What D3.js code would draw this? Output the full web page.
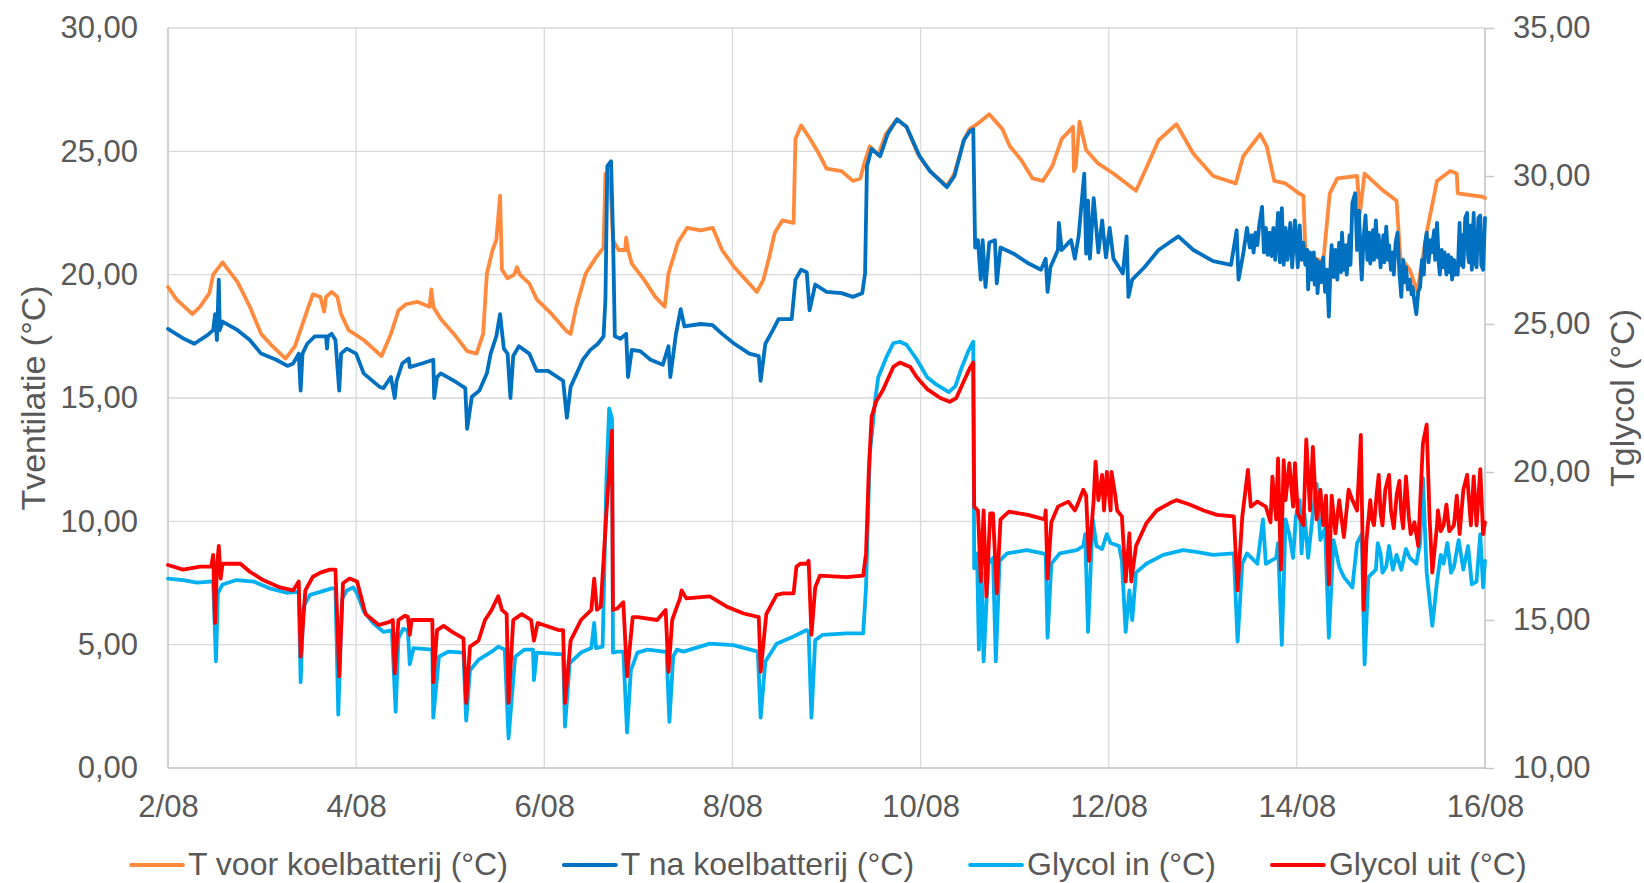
<!DOCTYPE html>
<html>
<head>
<meta charset="utf-8">
<script src="https://cdn.jsdelivr.net/npm/d3@7/dist/d3.min.js"></script>
<style>
  body { margin: 0; background: #fff; }
  text { font-family: "Liberation Sans", Arial, sans-serif; fill: #595959; }
</style>
</head>
<body>
<div id="chart"></div>
<script>
// time in days since 2/08 00:00, values in °C
const tVoor = [[0,19.5],[0.09,19.0],[0.26,18.4],[0.34,18.7],[0.44,19.25],[0.48,20.0],[0.58,20.5],[0.74,19.7],[0.87,18.7],[0.99,17.6],[1.11,17.1],[1.25,16.6],[1.35,17.1],[1.48,18.55],[1.54,19.2],[1.62,19.1],[1.66,18.5],[1.68,19.1],[1.74,19.3],[1.80,19.1],[1.84,18.4],[1.92,17.75],[2.08,17.35],[2.27,16.7],[2.37,17.6],[2.45,18.55],[2.53,18.8],[2.65,18.9],[2.78,18.7],[2.80,19.4],[2.82,18.7],[2.90,18.2],[3.06,17.5],[3.18,16.9],[3.28,16.8],[3.35,17.6],[3.39,20.05],[3.45,21.0],[3.49,21.4],[3.53,23.2],[3.55,20.2],[3.61,19.85],[3.68,20.0],[3.71,20.3],[3.74,20.0],[3.84,19.65],[3.92,19.0],[4.08,18.4],[4.24,17.7],[4.28,17.6],[4.34,18.7],[4.44,20.05],[4.55,20.7],[4.63,21.1],[4.65,24.1],[4.70,23.9],[4.73,21.4],[4.79,21.0],[4.86,21.0],[4.87,21.5],[4.89,21.0],[4.93,20.45],[5.06,19.8],[5.18,19.1],[5.28,18.7],[5.32,20.05],[5.42,21.3],[5.52,21.9],[5.66,21.8],[5.79,21.9],[5.89,21.0],[6.02,20.3],[6.14,19.8],[6.26,19.3],[6.33,19.8],[6.39,20.7],[6.45,21.7],[6.53,22.2],[6.65,22.1],[6.67,25.5],[6.73,26.05],[6.81,25.6],[6.92,24.9],[7.0,24.3],[7.16,24.2],[7.28,23.8],[7.36,23.9],[7.40,24.5],[7.46,25.2],[7.55,24.85],[7.63,25.7],[7.75,26.3],[7.85,26.0],[7.97,24.9],[8.10,24.2],[8.28,23.6],[8.36,24.1],[8.46,25.45],[8.52,25.9],[8.60,26.1],[8.73,26.5],[8.87,25.9],[8.95,25.2],[9.07,24.65],[9.19,23.9],[9.30,23.8],[9.40,24.4],[9.50,25.5],[9.60,25.9],[9.62,26.0],[9.63,24.2],[9.65,24.4],[9.69,26.2],[9.76,25.05],[9.89,24.5],[10.05,24.1],[10.29,23.4],[10.42,24.5],[10.53,25.45],[10.72,26.1],[10.90,24.9],[11.11,24.0],[11.35,23.7],[11.43,24.8],[11.61,25.7],[11.68,25.2],[11.76,23.8],[11.88,23.7],[12.02,23.3],[12.07,23.2],[12.09,21.0],[12.18,20.7],[12.28,20.5],[12.35,23.3],[12.43,23.9],[12.64,24.0],[12.67,22.5],[12.72,24.1],[12.92,23.4],[13.06,23.0],[13.10,20.7],[13.20,20.2],[13.28,19.3],[13.39,21.9],[13.49,23.8],[13.63,24.2],[13.70,24.1],[13.71,23.3],[13.98,23.15],[14.0,23.1]];

const tNa = [[0,17.8],[0.17,17.4],[0.28,17.2],[0.42,17.55],[0.48,17.75],[0.50,18.4],[0.52,17.35],[0.54,19.8],[0.55,17.75],[0.58,18.1],[0.74,17.75],[0.87,17.35],[0.99,16.8],[1.15,16.55],[1.27,16.3],[1.33,16.4],[1.39,16.8],[1.41,15.3],[1.43,16.8],[1.48,17.2],[1.56,17.5],[1.68,17.5],[1.69,17.0],[1.70,17.5],[1.74,17.6],[1.78,17.35],[1.82,15.3],[1.84,16.8],[1.90,17.0],[2.0,16.8],[2.08,16.0],[2.25,15.45],[2.29,15.4],[2.37,15.85],[2.41,15.0],[2.43,15.7],[2.49,16.4],[2.56,16.6],[2.57,16.25],[2.70,16.4],[2.82,16.55],[2.83,15.0],[2.86,15.85],[2.90,16.0],[3.06,15.65],[3.16,15.4],[3.18,13.75],[3.23,15.05],[3.31,15.3],[3.39,16.0],[3.43,16.8],[3.49,17.5],[3.53,18.4],[3.57,17.0],[3.61,16.8],[3.64,15.0],[3.67,16.7],[3.73,17.1],[3.84,16.8],[3.92,16.1],[4.04,16.1],[4.20,15.7],[4.24,14.2],[4.28,15.45],[4.41,16.55],[4.49,16.95],[4.57,17.2],[4.63,17.5],[4.65,19.0],[4.67,24.4],[4.71,24.6],[4.73,21.7],[4.75,17.5],[4.81,17.4],[4.87,17.6],[4.89,15.85],[4.93,16.95],[5.02,16.9],[5.13,16.55],[5.26,16.35],[5.32,17.1],[5.34,15.85],[5.40,17.6],[5.45,18.6],[5.49,17.9],[5.66,18.0],[5.79,17.95],[5.89,17.6],[6.02,17.2],[6.18,16.8],[6.28,16.7],[6.30,15.7],[6.35,17.2],[6.43,17.75],[6.49,18.2],[6.63,18.2],[6.67,19.8],[6.73,20.2],[6.79,20.1],[6.82,18.55],[6.88,19.6],[7.0,19.3],[7.16,19.25],[7.28,19.1],[7.38,19.25],[7.41,20.05],[7.43,24.4],[7.48,25.1],[7.57,24.8],[7.65,25.7],[7.75,26.3],[7.85,26.0],[7.99,24.8],[8.10,24.2],[8.28,23.55],[8.36,24.0],[8.46,25.45],[8.52,25.8],[8.56,25.9],[8.58,21.1],[8.61,21.4],[8.64,19.8],[8.66,21.4],[8.69,19.5],[8.73,21.3],[8.79,21.4],[8.81,19.65],[8.85,21.1],[8.99,20.85],[9.15,20.45],[9.28,20.2],[9.33,20.65],[9.35,19.3],[9.38,20.3],[9.46,21.0],[9.47,22.1],[9.50,21.0],[9.60,21.4],[9.64,20.65],[9.68,21.55],[9.74,24.1],[9.76,20.85],[9.78,23.0],[9.80,20.65],[9.84,23.1],[9.89,20.9],[9.93,22.2],[9.97,20.7],[10.01,21.9],[10.05,20.65],[10.15,20.05],[10.19,21.55],[10.21,19.1],[10.25,19.8],[10.38,20.3],[10.53,21.0],[10.74,21.55],[10.90,21.0],[11.11,20.55],[11.30,20.4],[11.36,21.8],[11.38,19.8],[11.43,20.85],[11.47,21.9],[11.50,21.1],[11.52,21.6],[11.54,20.9],[11.56,21.7],[11.58,21.2],[11.60,22.0],[11.63,22.75],[11.65,20.9],[11.67,21.9],[11.69,20.8],[11.71,21.7],[11.73,20.75],[11.75,21.9],[11.77,20.6],[11.80,22.5],[11.82,20.5],[11.84,22.7],[11.86,20.4],[11.88,21.9],[11.90,20.6],[11.93,22.1],[11.95,20.3],[11.98,22.2],[12.01,20.3],[12.03,22.0],[12.05,20.6],[12.07,21.3],[12.09,20.4],[12.11,21.0],[12.12,19.4],[12.14,20.9],[12.16,19.8],[12.18,20.9],[12.19,19.6],[12.21,20.6],[12.22,19.25],[12.24,20.5],[12.26,19.7],[12.28,20.7],[12.30,19.3],[12.32,20.2],[12.34,18.3],[12.36,20.6],[12.37,21.2],[12.39,19.9],[12.41,21.0],[12.43,19.8],[12.45,21.3],[12.47,20.1],[12.48,21.7],[12.50,20.2],[12.52,21.2],[12.53,20.0],[12.56,21.6],[12.57,20.4],[12.59,22.9],[12.62,23.3],[12.64,21.0],[12.66,22.6],[12.68,20.5],[12.69,19.8],[12.71,21.5],[12.73,22.4],[12.75,20.6],[12.77,21.7],[12.78,20.45],[12.81,21.8],[12.82,20.6],[12.84,22.2],[12.86,20.7],[12.87,21.6],[12.89,20.3],[12.92,21.6],[12.93,20.5],[12.95,21.95],[12.97,20.6],[12.98,21.2],[13.00,20.2],[13.02,20.9],[13.03,20.0],[13.05,21.3],[13.07,21.7],[13.09,20.1],[13.11,19.1],[13.13,20.6],[13.15,19.7],[13.16,20.3],[13.18,19.4],[13.20,19.8],[13.22,19.2],[13.23,19.5],[13.25,18.9],[13.27,18.4],[13.29,19.3],[13.31,19.5],[13.33,20.6],[13.35,20.0],[13.36,21.2],[13.38,21.7],[13.40,20.5],[13.42,21.4],[13.43,20.9],[13.46,21.8],[13.47,20.6],[13.49,22.1],[13.51,20.4],[13.52,20.0],[13.54,21.0],[13.55,20.3],[13.57,20.9],[13.59,20.0],[13.61,20.8],[13.62,20.1],[13.64,20.7],[13.65,19.8],[13.67,20.6],[13.68,20.0],[13.70,20.5],[13.71,20.0],[13.73,22.1],[13.74,20.4],[13.76,21.6],[13.77,20.3],[13.79,22.3],[13.81,22.5],[13.82,20.8],[13.83,20.5],[13.85,22.0],[13.86,20.2],[13.88,22.5],[13.89,20.6],[13.91,20.3],[13.93,22.3],[13.95,22.4],[13.96,20.4],[13.98,20.2],[14.0,22.3]];

const glycolIn = [[0,16.4],[0.16,16.35],[0.31,16.26],[0.45,16.3],[0.48,16.3],[0.51,13.6],[0.53,15.9],[0.58,16.2],[0.73,16.35],[0.91,16.3],[1.08,16.07],[1.26,15.92],[1.37,15.95],[1.39,15.9],[1.41,12.9],[1.44,15.45],[1.51,15.85],[1.62,15.95],[1.74,16.07],[1.78,16.07],[1.81,11.8],[1.85,15.7],[1.90,16.0],[1.97,16.1],[2.01,15.9],[2.08,15.3],[2.18,14.9],[2.29,14.6],[2.38,14.65],[2.42,11.9],[2.45,14.4],[2.50,14.7],[2.55,14.65],[2.57,13.5],[2.61,14.05],[2.81,14.0],[2.82,11.7],[2.88,13.76],[2.98,13.93],[3.14,13.9],[3.17,11.6],[3.21,13.3],[3.30,13.65],[3.44,13.93],[3.51,14.1],[3.58,14.0],[3.62,11.0],[3.69,13.76],[3.79,14.0],[3.88,14.0],[3.89,12.97],[3.92,13.9],[4.15,13.85],[4.20,13.85],[4.22,11.4],[4.27,13.54],[4.39,13.9],[4.50,14.05],[4.53,14.9],[4.55,14.05],[4.62,14.1],[4.66,19.7],[4.69,22.15],[4.72,21.8],[4.73,13.9],[4.78,13.93],[4.84,13.93],[4.88,11.2],[4.92,13.3],[4.99,13.9],[5.10,14.0],[5.27,13.93],[5.30,13.93],[5.33,11.56],[5.37,13.76],[5.41,14.0],[5.48,13.93],[5.76,14.2],[6.01,14.15],[6.27,13.93],[6.30,11.7],[6.35,13.6],[6.47,14.2],[6.65,14.44],[6.79,14.66],[6.81,14.6],[6.84,11.7],[6.88,14.32],[6.96,14.5],[7.21,14.55],[7.39,14.55],[7.42,16.1],[7.46,20.6],[7.52,22.5],[7.55,23.2],[7.64,23.9],[7.71,24.35],[7.78,24.4],[7.85,24.3],[7.96,23.8],[8.07,23.2],[8.17,22.95],[8.30,22.7],[8.37,22.9],[8.44,23.55],[8.51,24.1],[8.56,24.4],[8.57,16.75],[8.60,17.25],[8.62,14.0],[8.65,16.6],[8.67,13.6],[8.72,16.9],[8.77,17.1],[8.80,13.6],[8.84,17.0],[8.92,17.25],[9.13,17.36],[9.30,17.25],[9.33,17.2],[9.35,14.4],[9.39,16.9],[9.48,17.25],[9.66,17.36],[9.73,17.5],[9.75,17.9],[9.78,14.6],[9.83,18.4],[9.87,17.5],[9.93,17.4],[9.98,17.9],[10.02,17.6],[10.11,17.5],[10.14,17.0],[10.18,14.6],[10.22,16.0],[10.25,15.0],[10.29,16.6],[10.40,16.9],[10.58,17.2],[10.79,17.36],[10.93,17.3],[11.11,17.2],[11.33,17.25],[11.37,14.27],[11.42,16.9],[11.47,17.25],[11.58,16.9],[11.64,18.4],[11.67,16.9],[11.78,17.1],[11.80,17.6],[11.84,14.16],[11.88,18.4],[11.92,17.9],[11.96,17.1],[11.99,18.5],[12.03,19.05],[12.05,17.25],[12.08,18.6],[12.12,17.1],[12.17,18.6],[12.21,19.6],[12.25,17.7],[12.30,18.1],[12.34,14.4],[12.39,17.7],[12.45,16.8],[12.50,16.45],[12.59,16.1],[12.64,17.6],[12.69,17.9],[12.72,13.5],[12.76,16.45],[12.84,16.7],[12.86,17.6],[12.89,17.25],[12.91,16.6],[12.95,16.8],[12.98,17.5],[13.02,16.7],[13.06,17.2],[13.11,16.7],[13.16,17.4],[13.20,17.1],[13.27,16.9],[13.31,17.6],[13.34,19.8],[13.38,16.6],[13.44,14.8],[13.49,16.3],[13.53,17.2],[13.56,16.9],[13.60,17.6],[13.64,16.6],[13.67,16.8],[13.72,17.7],[13.77,16.7],[13.82,17.5],[13.86,16.2],[13.91,16.3],[13.95,17.9],[13.98,16.1],[14.0,17.0]];

const glycolUit = [[0,16.86],[0.16,16.7],[0.34,16.8],[0.46,16.8],[0.48,17.2],[0.50,14.9],[0.52,16.8],[0.54,17.5],[0.56,16.4],[0.58,16.9],[0.77,16.9],[0.87,16.63],[1.01,16.35],[1.19,16.1],[1.33,16.0],[1.39,16.3],[1.41,13.76],[1.46,16.0],[1.54,16.46],[1.62,16.6],[1.72,16.7],[1.78,16.7],[1.82,13.1],[1.86,16.24],[1.93,16.4],[2.01,16.3],[2.10,15.2],[2.24,14.83],[2.35,14.93],[2.39,15.0],[2.41,13.2],[2.45,15.0],[2.52,15.15],[2.55,15.1],[2.57,14.5],[2.59,15.0],[2.81,15.0],[2.82,12.9],[2.86,14.66],[2.93,14.8],[3.02,14.6],[3.14,14.38],[3.17,12.2],[3.21,14.1],[3.30,14.3],[3.37,15.0],[3.44,15.34],[3.51,15.8],[3.55,15.34],[3.60,15.2],[3.62,12.2],[3.67,15.0],[3.76,15.2],[3.86,15.0],[3.89,14.3],[3.93,14.9],[4.15,14.66],[4.20,14.66],[4.22,12.2],[4.28,14.3],[4.39,15.0],[4.50,15.34],[4.53,16.4],[4.56,15.34],[4.60,15.45],[4.66,18.6],[4.72,21.4],[4.73,15.34],[4.78,15.4],[4.84,15.6],[4.88,13.1],[4.94,15.1],[4.99,15.1],[5.20,15.0],[5.29,15.34],[5.32,13.25],[5.36,15.0],[5.41,15.45],[5.44,15.7],[5.46,16.0],[5.51,15.73],[5.76,15.8],[5.94,15.45],[6.12,15.22],[6.28,15.1],[6.30,13.25],[6.36,15.2],[6.47,15.85],[6.54,15.9],[6.65,15.9],[6.68,16.8],[6.72,16.9],[6.79,16.9],[6.81,17.0],[6.84,14.5],[6.88,16.1],[6.93,16.5],[7.21,16.45],[7.39,16.5],[7.42,17.25],[7.45,20.07],[7.48,21.87],[7.53,22.4],[7.60,22.77],[7.71,23.55],[7.78,23.7],[7.89,23.55],[7.96,23.2],[8.07,22.8],[8.21,22.5],[8.31,22.37],[8.38,22.5],[8.45,23.0],[8.53,23.55],[8.56,23.7],[8.57,18.83],[8.61,18.7],[8.64,16.3],[8.67,18.7],[8.70,15.8],[8.74,18.6],[8.77,18.6],[8.81,15.9],[8.85,18.4],[8.94,18.66],[9.14,18.55],[9.32,18.4],[9.33,18.7],[9.35,16.4],[9.39,18.3],[9.46,18.83],[9.57,19.0],[9.64,18.7],[9.66,18.83],[9.73,19.4],[9.76,19.2],[9.79,17.0],[9.84,19.05],[9.86,20.35],[9.89,19.05],[9.93,19.9],[9.95,18.7],[9.98,20.0],[10.02,18.7],[10.03,20.0],[10.07,19.2],[10.09,18.7],[10.14,18.5],[10.18,16.3],[10.22,17.93],[10.24,16.3],[10.29,17.5],[10.40,18.27],[10.51,18.7],[10.65,18.95],[10.72,19.05],[10.86,18.9],[11.01,18.7],[11.15,18.55],[11.33,18.5],[11.37,16.0],[11.42,18.5],[11.48,20.07],[11.51,18.83],[11.58,19.0],[11.67,18.83],[11.72,18.3],[11.74,19.84],[11.78,18.4],[11.80,20.46],[11.83,16.7],[11.86,20.4],[11.88,19.05],[11.92,20.3],[11.96,18.83],[11.98,20.3],[12.01,18.6],[12.07,18.2],[12.10,21.1],[12.14,18.7],[12.17,20.85],[12.21,18.4],[12.25,19.4],[12.28,18.2],[12.31,19.2],[12.34,16.2],[12.37,19.2],[12.41,17.93],[12.45,19.05],[12.50,17.8],[12.55,19.4],[12.59,19.05],[12.64,18.7],[12.68,21.25],[12.71,15.34],[12.74,17.7],[12.78,19.05],[12.80,18.4],[12.82,18.2],[12.85,19.3],[12.87,19.9],[12.89,18.6],[12.91,18.2],[12.94,19.4],[12.98,19.9],[13.00,18.7],[13.03,18.1],[13.06,19.2],[13.09,19.7],[13.11,18.6],[13.13,18.1],[13.16,19.85],[13.19,18.5],[13.21,17.9],[13.25,18.3],[13.29,17.5],[13.34,20.97],[13.38,21.6],[13.41,18.5],[13.44,16.6],[13.49,18.2],[13.50,18.7],[13.53,18.0],[13.56,18.2],[13.59,18.9],[13.62,18.0],[13.67,18.2],[13.70,19.2],[13.73,17.9],[13.77,19.4],[13.81,19.9],[13.85,18.2],[13.88,19.85],[13.91,18.2],[13.95,20.1],[13.98,17.9],[14.0,18.3]];

const xTicks = [0, 2, 4, 6, 8, 10, 12, 14];
const xTickLabels = ["2/08", "4/08", "6/08", "8/08", "10/08", "12/08", "14/08", "16/08"];
const leftTicks = [0, 5, 10, 15, 20, 25, 30];
const rightTicks = [10, 15, 20, 25, 30, 35];

const seriesNames = ["T voor koelbatterij (°C)", "T na koelbatterij (°C)", "Glycol in (°C)", "Glycol uit (°C)"];
const seriesColors = ["#FF8A3D", "#0070C0", "#00B0F0", "#FF0000"];

const width = 1644, height = 883;
const margin = {top: 28, right: 159, bottom: 115, left: 168};
const innerW = width - margin.left - margin.right,
      innerH = height - margin.top - margin.bottom;

const nl = d3.formatLocale({decimal: ",", thousands: ".", grouping: [3], currency: ["€", ""]});
const fmt = nl.format(".2f");

const x = d3.scaleLinear().domain([0, 14]).range([0, innerW]);
const yLeft = d3.scaleLinear().domain([0, 30]).range([innerH, 0]);
const yRight = d3.scaleLinear().domain([10, 35]).range([innerH, 0]);

const svg = d3.select("#chart").append("svg")
    .attr("width", width)
    .attr("height", height);

const g = svg.append("g")
    .attr("transform", "translate(" + margin.left + "," + margin.top + ")");

// gridlines
g.append("g").selectAll("line")
  .data(leftTicks)
  .enter().append("line")
    .attr("x1", 0).attr("x2", innerW)
    .attr("y1", d => yLeft(d)).attr("y2", d => yLeft(d))
    .attr("stroke", "#d9d9d9").attr("stroke-width", 1.3);

g.append("g").selectAll("line")
  .data(xTicks)
  .enter().append("line")
    .attr("x1", d => x(d)).attr("x2", d => x(d))
    .attr("y1", 0).attr("y2", innerH)
    .attr("stroke", "#d9d9d9").attr("stroke-width", 1.3);

// axes
const axisLeft = g.append("g")
    .call(d3.axisLeft(yLeft).tickValues(leftTicks).tickSize(0).tickPadding(30).tickFormat(fmt));
const axisBottom = g.append("g")
    .attr("transform", "translate(0," + innerH + ")")
    .call(d3.axisBottom(x).tickValues(xTicks).tickSize(0).tickPadding(27)
      .tickFormat((d, i) => xTickLabels[i]));
const axisRight = g.append("g")
    .attr("transform", "translate(" + innerW + ",0)")
    .call(d3.axisRight(yRight).tickValues(rightTicks).tickSize(9).tickPadding(19).tickFormat(fmt));

[axisLeft, axisBottom, axisRight].forEach(a => {
  a.select(".domain").remove();
  a.selectAll("text")
    .style("font-size", "31px")
    .attr("fill", "#595959");
});
axisRight.selectAll(".tick line").attr("stroke", "#c8c8c8").attr("stroke-width", 1.5);

g.append("line")
  .attr("x1", 0).attr("x2", 0).attr("y1", 0).attr("y2", innerH)
  .attr("stroke", "#c8c8c8").attr("stroke-width", 1.5);
g.append("line")
  .attr("x1", innerW).attr("x2", innerW).attr("y1", 0).attr("y2", innerH)
  .attr("stroke", "#c8c8c8").attr("stroke-width", 1.5);
g.append("line")
  .attr("x1", 0).attr("x2", innerW).attr("y1", innerH).attr("y2", innerH)
  .attr("stroke", "#c8c8c8").attr("stroke-width", 1.5);

// series
const lineLeft = d3.line().x(d => x(d[0])).y(d => yLeft(d[1]));
const lineRight = d3.line().x(d => x(d[0])).y(d => yRight(d[1]));

const series = [
  {data: tVoor, line: lineLeft},
  {data: tNa, line: lineLeft},
  {data: glycolIn, line: lineRight},
  {data: glycolUit, line: lineRight}
];

series.forEach((s, i) => {
  g.append("path")
    .datum(s.data)
    .attr("fill", "none")
    .attr("stroke", seriesColors[i])
    .attr("stroke-width", 3.8)
    .attr("stroke-linejoin", "round")
    .attr("stroke-linecap", "round")
    .attr("d", s.line);
});

// axis titles
svg.append("text")
  .attr("transform", "translate(33," + (margin.top + innerH / 2) + ") rotate(-90)")
  .attr("text-anchor", "middle")
  .attr("dy", "0.36em")
  .style("font-size", "34px")
  .text("Tventilatie (°C)");

svg.append("text")
  .attr("transform", "translate(1622," + (margin.top + innerH / 2) + ") rotate(-90)")
  .attr("text-anchor", "middle")
  .attr("dy", "0.36em")
  .style("font-size", "34px")
  .text("Tglycol (°C)");

// legend
const legend = svg.append("g").attr("class", "legend");
let lx = 131;
seriesNames.forEach((name, i) => {
  legend.append("line")
    .attr("x1", lx).attr("x2", lx + 52)
    .attr("y1", 865).attr("y2", 865)
    .attr("stroke", seriesColors[i])
    .attr("stroke-width", 3.8)
    .attr("stroke-linecap", "round");
  const t = legend.append("text")
    .attr("x", lx + 57)
    .attr("y", 875)
    .style("font-size", "32px")
    .text(name);
  lx = lx + 57 + t.node().getComputedTextLength() + 56;
});
</script>
</body>
</html>
